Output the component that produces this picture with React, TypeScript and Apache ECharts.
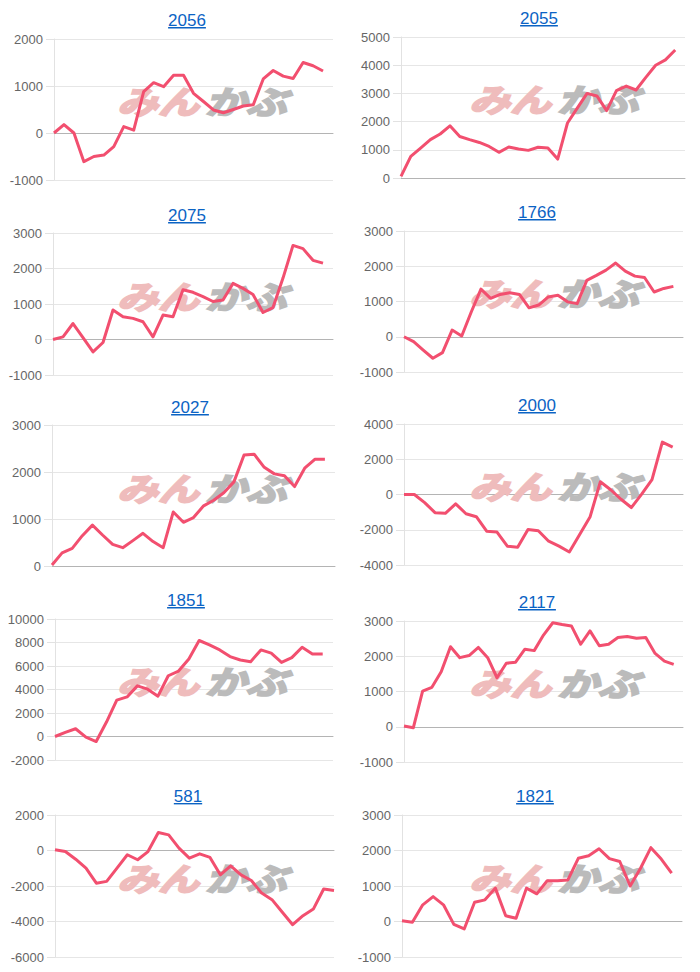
import React, { useEffect, useRef } from "react";
import * as echarts from "echarts";

// ---- data ----
const titles = ["2056", "2055", "2075", "1766", "2027", "2000", "1851", "2117", "581", "1821"];

const s2056 = [0, 180, 0, -610, -500, -470, -290, 135, 60, 880, 1070, 985, 1230, 1230, 845, 670, 490, 430, 500, 575, 600, 1150, 1330, 1210, 1160, 1500, 1430, 1320];
const s2055 = [60, 770, 1060, 1360, 1560, 1850, 1470, 1360, 1260, 1120, 910, 1100, 1030, 980, 1090, 1060, 670, 1950, 2480, 3000, 2910, 2390, 3100, 3260, 3120, 3570, 4000, 4190, 4540];
const s2075 = [0, 75, 450, 50, -350, -85, 830, 640, 595, 500, 75, 690, 640, 1400, 1330, 1210, 1070, 1110, 1580, 1440, 1270, 760, 900, 1730, 2650, 2560, 2230, 2150];
const s1766 = [0, -140, -380, -610, -450, 190, 20, 710, 1350, 1090, 1200, 1250, 1200, 820, 900, 1130, 1180, 990, 940, 1600, 1740, 1890, 2090, 1860, 1720, 1680, 1270, 1370, 1430];
const s2027 = [20, 280, 375, 645, 870, 660, 460, 390, 540, 695, 520, 390, 1150, 930, 1030, 1280, 1400, 1560, 1790, 2360, 2380, 2100, 1960, 1920, 1690, 2080, 2270, 2270];
const s2000 = [0, 0, -460, -1030, -1070, -530, -1090, -1260, -2080, -2130, -2930, -2990, -1980, -2060, -2650, -2930, -3260, -2270, -1280, 720, 270, -270, -740, 20, 840, 2970, 2690];
const s1851 = [0, 350, 660, -60, -430, 1230, 3090, 3370, 4310, 4030, 3430, 5170, 5570, 6600, 8170, 7800, 7370, 6800, 6510, 6370, 7370, 7090, 6310, 6710, 7600, 7030, 7030];
const s2117 = [20, -30, 1010, 1120, 1560, 2270, 1960, 2020, 2250, 1960, 1390, 1800, 1830, 2200, 2160, 2600, 2950, 2900, 2860, 2340, 2720, 2300, 2340, 2530, 2560, 2510, 2530, 2080, 1860, 1770];
const s581 = [40, -60, -490, -990, -1840, -1740, -990, -240, -520, -60, 1010, 880, 130, -430, -190, -390, -1370, -860, -1370, -1690, -2400, -2770, -3480, -4180, -3670, -3300, -2170, -2250];
const s1821 = [20, -20, 470, 700, 470, -80, -210, 540, 610, 940, 160, 90, 940, 780, 1150, 1150, 1170, 1780, 1850, 2050, 1770, 1690, 1000, 1500, 2080, 1760, 1360];

const seriesValues = [s2056, s2055, s2075, s1766, s2027, s2000, s1851, s2117, s581, s1821];
const categoryCounts = [29, 30, 29, 30, 29, 28, 28, 31, 28, 28];
const yMin = [-1000, 0, -1000, -1000, 0, -4000, -2000, -1000, -6000, -1000];
const yMax = [2000, 5000, 3000, 3000, 3000, 4000, 10000, 3000, 2000, 3000];
const yStep = [1000, 1000, 1000, 1000, 1000, 2000, 2000, 1000, 2000, 1000];

// ---- layout (pixels) ----
const gridLeft = [54, 401, 53, 404, 52, 404, 55, 404, 55, 402];
const gridRightX = [333, 685, 333, 683, 335, 683, 333, 683, 334, 682];
const gridTop = [39, 37, 233, 231, 425, 424, 619, 621, 815, 815];
const gridBottomY = [180, 178, 375, 372, 566, 565, 760, 762, 957, 957];
const titleX = [187, 539, 187, 537, 190, 537, 186, 537, 188, 535];
const titleY = [20, 18, 215, 212, 407, 405, 600, 602, 796, 796];
const wmTop = [84, 82, 279, 276, 471, 469, 664, 666, 861, 861];

const LINE = "#f24f6f";
const TITLE = "#0b63c4";
const FONT = '"Liberation Sans", Arial, sans-serif';

function buildOption() {
  const grid: any[] = [];
  const xAxis: any[] = [];
  const yAxis: any[] = [];
  const series: any[] = [];
  const graphic: any[] = [];

  titles.forEach((t, i) => {
    const col = i % 2;
    grid.push({
      left: gridLeft[i],
      top: gridTop[i],
      width: gridRightX[i] - gridLeft[i],
      height: gridBottomY[i] - gridTop[i],
      containLabel: false,
    });
    const cats = Array.from({ length: categoryCounts[i] }, (_, k) => String(k + 1));
    xAxis.push({
      type: "category",
      gridIndex: i,
      data: cats,
      boundaryGap: false,
      axisLabel: { show: false },
      axisTick: { show: false },
      splitLine: { show: false },
      axisLine: { show: true, onZero: true, lineStyle: { color: "#b4b4b4", width: 1 } },
    });
    yAxis.push({
      type: "value",
      gridIndex: i,
      min: yMin[i],
      max: yMax[i],
      interval: yStep[i],
      axisLine: { show: true, lineStyle: { color: "#e2e2e2" } },
      axisTick: { show: true, length: 8, lineStyle: { color: "#e2e2e2" } },
      splitLine: { show: true, lineStyle: { color: "#e6e6e6", width: 1 } },
      axisLabel: {
        color: "#666",
        fontSize: 13,
        fontFamily: FONT,
        margin: 11,
        formatter: (v: number) => String(v),
      },
    });
    series.push({
      type: "line",
      xAxisIndex: i,
      yAxisIndex: i,
      data: seriesValues[i],
      symbol: "none",
      smooth: false,
      z: 3,
      lineStyle: { color: LINE, width: 3, join: "round" },
    });

    const tw = t.length * 9.45;
    graphic.push({
      type: "text",
      x: titleX[i],
      y: titleY[i],
      z: 5,
      style: {
        text: t,
        fill: TITLE,
        fontSize: 17,
        fontFamily: FONT,
        textAlign: "center",
        textVerticalAlign: "middle",
        align: "center",
        verticalAlign: "middle",
      },
    });
    graphic.push({
      type: "rect",
      x: titleX[i] - tw / 2,
      y: titleY[i] + 7,
      z: 5,
      shape: { width: tw, height: 1.4 },
      style: { fill: TITLE },
    });
    const wx = col === 0 ? 117 : 469;
    const wmStyle = {
      fontSize: 41,
      fontWeight: "bold",
      fontStyle: "italic",
      fontFamily: '"Noto Sans CJK JP"',
      textVerticalAlign: "top",
      verticalAlign: "top",
      lineWidth: 2.5,
    };
    graphic.push({
      type: "group",
      x: wx,
      y: wmTop[i],
      scaleY: 0.78,
      z: 1,
      children: [
        { type: "text", x: 0, y: 0, z: 1, style: { ...wmStyle, text: "みん", fill: "#efbcbc", stroke: "#efbcbc" } },
        { type: "text", x: 88, y: 0, z: 1, style: { ...wmStyle, text: "かぶ", fill: "#bbbbbb", stroke: "#bbbbbb" } },
      ],
    });
  });

  return {
    animation: false,
    backgroundColor: "#fff",
    grid,
    xAxis,
    yAxis,
    series,
    graphic,
  };
}

export default function App() {
  const ref = useRef<HTMLDivElement>(null);
  useEffect(() => {
    if (!ref.current) return;
    const chart = echarts.init(ref.current, null, { renderer: "svg" });
    chart.setOption(buildOption());
    return () => chart.dispose();
  }, []);
  return (
    <div
      ref={ref}
      style={{ position: "absolute", left: 0, top: 0, width: 700, height: 972, background: "#fff" }}
    />
  );
}
